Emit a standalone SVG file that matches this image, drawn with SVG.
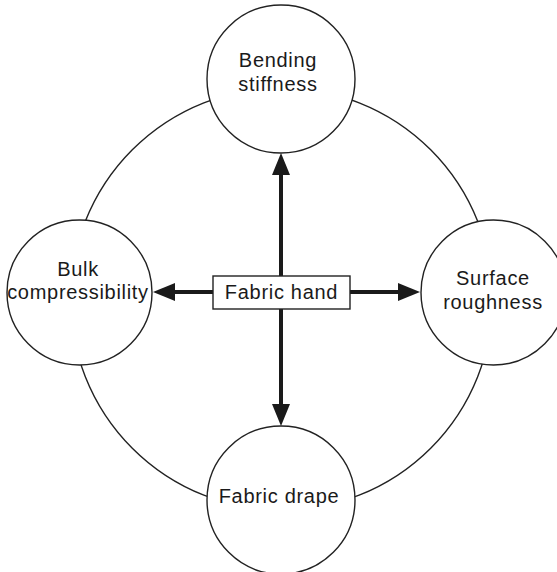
<svg xmlns="http://www.w3.org/2000/svg" width="557" height="572" viewBox="0 0 557 572">
<style>
.ring{fill:none;stroke:#222;stroke-width:1.4}
.node{fill:#fff;stroke:#222;stroke-width:1.4}
.lbl{font-family:"Liberation Sans",Arial,sans-serif;font-size:20px;letter-spacing:0.7px;fill:#1a1a1a;text-anchor:middle}
.arr{stroke:#1a1a1a;stroke-width:4;fill:none;marker-end:url(#ah)}
</style>
<defs>
<marker id="ah" markerUnits="userSpaceOnUse" markerWidth="22" markerHeight="18" refX="12" refY="9" orient="auto">
<path d="M0,0 L22,9 L0,18 z" fill="#1a1a1a"/>
</marker>
</defs>
<rect width="557" height="572" fill="#fff"/>
<circle class="ring" cx="281.5" cy="299" r="211"/>
<g id="connectors">
<line class="arr" x1="281" y1="276" x2="281" y2="163"/>
<line class="arr" x1="281" y1="309" x2="281" y2="416"/>
<line class="arr" x1="213" y1="292" x2="163" y2="292"/>
<line class="arr" x1="350" y1="292" x2="410" y2="292"/>
</g>
<g id="bending">
<circle class="node" cx="281" cy="79" r="74"/>
<text class="lbl" x="278" y="67">Bending</text>
<text class="lbl" x="278" y="91">stiffness</text>
</g>
<g id="bulk">
<circle class="node" cx="79.5" cy="292.5" r="72.5"/>
<text class="lbl" x="78" y="276">Bulk</text>
<text class="lbl" x="78" y="299">compressibility</text>
</g>
<g id="surface">
<circle class="node" cx="493.5" cy="292.5" r="72.5"/>
<text class="lbl" x="493" y="285">Surface</text>
<text class="lbl" x="493" y="309">roughness</text>
</g>
<g id="drape">
<circle class="node" cx="281" cy="500" r="74"/>
<text class="lbl" x="279" y="503">Fabric drape</text>
</g>
<g id="hand">
<rect x="213" y="276" width="137" height="33" fill="#fff" stroke="#222" stroke-width="1.4"/>
<text class="lbl" x="281.5" y="299">Fabric hand</text>
</g>
</svg>
